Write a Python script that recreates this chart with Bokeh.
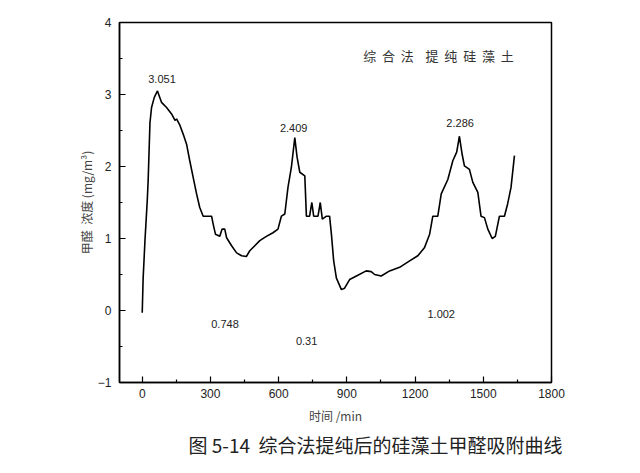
from bokeh.plotting import figure
from bokeh.models import Range1d, FixedTicker, Title, ColumnDataSource
from bokeh.core.properties import value
from bokeh.embed import file_html
from bokeh.resources import INLINE

time_min = [0, 4, 12, 22, 26, 34, 41, 53, 67, 85,
            107, 129, 144, 151, 166, 180, 195, 209, 224, 239,
            253, 268, 305, 312, 322, 341, 351, 363, 371, 393,
            415, 437, 458, 473, 495, 517, 546, 575, 597, 612,
            627, 641, 656, 671, 681, 693, 715, 722, 736, 746,
            754, 773, 783, 792, 810, 824, 832, 842, 854, 876,
            890, 912, 942, 985, 1007, 1022, 1051, 1088, 1132, 1176,
            1212, 1241, 1264, 1278, 1300, 1315, 1344, 1366, 1383, 1395,
            1407, 1417, 1439, 1454, 1476, 1490, 1505, 1520, 1539, 1553,
            1571, 1593, 1607, 1622, 1637]
concentration = [-0.03, 0.45, 0.97, 1.52, 1.80, 2.61, 2.82, 2.96, 3.05, 2.89,
                 2.82, 2.73, 2.64, 2.66, 2.57, 2.45, 2.31, 2.08, 1.85, 1.62,
                 1.43, 1.31, 1.31, 1.20, 1.06, 1.03, 1.13, 1.13, 1.01, 0.90,
                 0.80, 0.76, 0.75, 0.83, 0.90, 0.97, 1.03, 1.08, 1.13, 1.31,
                 1.34, 1.71, 1.99, 2.40, 2.13, 1.92, 1.87, 1.31, 1.31, 1.50,
                 1.31, 1.31, 1.50, 1.27, 1.31, 1.31, 1.06, 0.69, 0.45, 0.29,
                 0.31, 0.43, 0.48, 0.55, 0.54, 0.50, 0.48, 0.55, 0.60, 0.69,
                 0.76, 0.87, 1.06, 1.31, 1.31, 1.62, 1.82, 2.08, 2.20, 2.42,
                 2.17, 2.01, 1.96, 1.78, 1.64, 1.31, 1.29, 1.13, 1.00, 1.03,
                 1.31, 1.31, 1.48, 1.71, 2.15]

ann_text = ["3.051", "2.409", "2.286", "0.748", "0.31", "1.002"]
ann_x = [87, 666, 1398, 364, 723, 1315]
ann_y = [3.22, 2.54, 2.60, -0.19, -0.42, -0.05]

x_ticks = [0, 300, 600, 900, 1200, 1500, 1800]
x_minor = [150, 450, 750, 1050, 1350, 1650]
y_ticks = [-1, 0, 1, 2, 3, 4]
y_minor = [-0.5, 0.5, 1.5, 2.5, 3.5]

NB = "\u00a0"
legend_text = (NB * 2).join("综合法") + NB * 4 + (NB * 2).join("提纯硅藻土")
x_title = "时间" + NB + "/min"
y_title = "甲醛" + NB * 2 + "浓度" + NB + "(mg/m³)"
caption = "图" + NB + "5-14" + NB * 2 + "综合法提纯后的硅藻土甲醛吸附曲线"

p = figure(width=640, height=473, output_backend="svg", toolbar_location=None,
           x_range=Range1d(-100, 1800), y_range=Range1d(-1, 4))
p.min_border_left = 119
p.min_border_right = 89
p.min_border_top = 22
p.min_border_bottom = 91
p.background_fill_color = "white"
p.border_fill_color = "white"
p.outline_line_color = "black"
p.outline_line_width = 1.5
p.grid.visible = False

p.line(time_min, concentration, line_color="black", line_width=1.6)

src = ColumnDataSource(dict(x=ann_x, y=ann_y, t=ann_text))
p.text("x", "y", text="t", source=src, text_align="center", text_baseline="middle",
       text_font=value("Liberation Sans"), text_font_size="11px", text_color="#222222")

p.text([1303], [3.54], text=[legend_text], text_align="center", text_baseline="middle",
       text_font=value("Noto Sans CJK SC"), text_font_size="13px", text_color="#333333")

for ax in (p.xaxis[0], p.yaxis[0]):
    ax.axis_line_width = 1.5
    ax.axis_line_color = "black"
    ax.major_tick_in = 6
    ax.major_tick_out = 0
    ax.minor_tick_in = 3
    ax.minor_tick_out = 0
    ax.major_tick_line_width = 1.2
    ax.minor_tick_line_width = 1.2
    ax.major_label_text_font = "Liberation Sans"
    ax.major_label_text_font_size = "12px"
    ax.major_label_text_color = "#222222"
    ax.axis_label_text_font = "Noto Sans CJK SC"
    ax.axis_label_text_font_size = "12px"
    ax.axis_label_text_font_style = "normal"
    ax.axis_label_text_color = "#444444"

p.xaxis.ticker = FixedTicker(ticks=x_ticks, minor_ticks=x_minor)
p.yaxis.ticker = FixedTicker(ticks=y_ticks, minor_ticks=y_minor)
p.xaxis.major_label_standoff = 6
p.yaxis.major_label_standoff = 8
p.xaxis.axis_label = x_title
p.yaxis.axis_label = y_title
p.xaxis.axis_label_standoff = 6
p.yaxis.axis_label_standoff = 0

cap = Title(text=caption, align="left", offset=69, text_font="Noto Sans CJK SC",
            text_font_size="19px", text_font_style="normal", text_color="#222222",
            standoff=4)
p.add_layout(cap, "below")

open("out.html", "w").write(file_html(p, INLINE))
